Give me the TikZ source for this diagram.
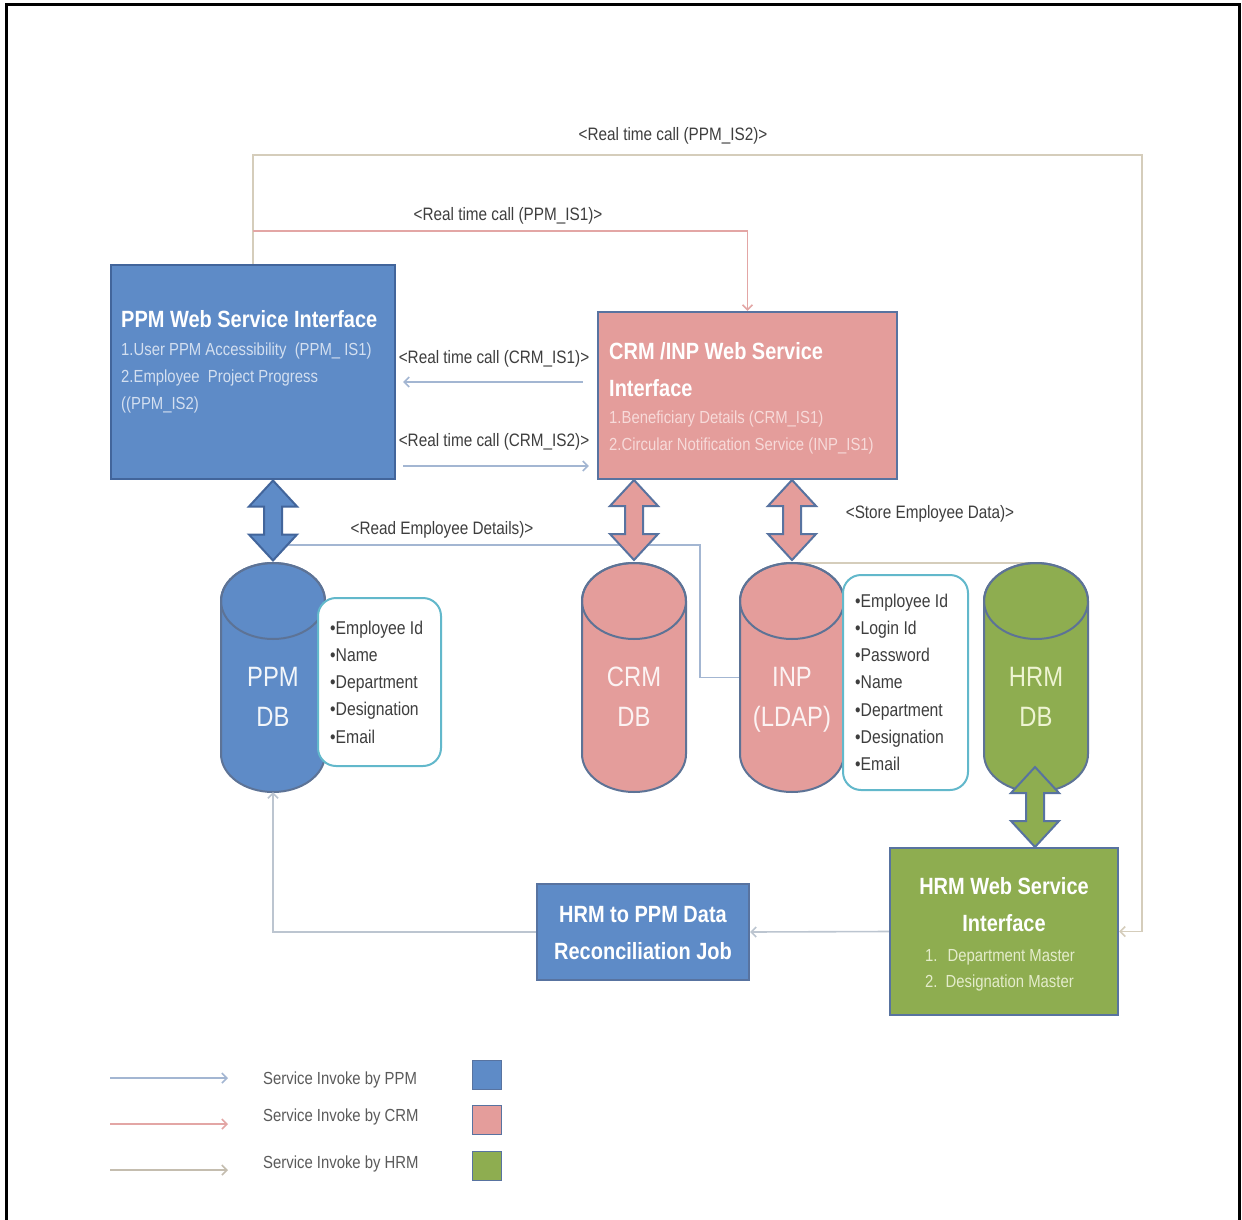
\documentclass[tikz,border=0pt]{standalone}
\usepackage{fontspec}
\setmainfont{Liberation Sans}[FakeStretch=0.85]
\usetikzlibrary{arrows.meta}
\definecolor{pblue}{HTML}{5E8BC7}
\definecolor{pbluedk}{HTML}{42659B}
\definecolor{cpink}{HTML}{E49D9B}
\definecolor{hgreen}{HTML}{8EAD50}
\definecolor{bordblue}{HTML}{5873A0}
\definecolor{cylbord}{HTML}{5D7396}
\definecolor{infobord}{HTML}{62B8CB}
\definecolor{lnblue}{HTML}{A3B6D2}
\definecolor{lnpink}{HTML}{E3A6A5}
\definecolor{lnbeige}{HTML}{D5CDBB}
\definecolor{lngray}{HTML}{BCC5D0}
\definecolor{subblue}{HTML}{D3DFF0}
\definecolor{subpink}{HTML}{F7DAD9}
\definecolor{subgreen}{HTML}{E4ECCB}
\definecolor{dbgreentxt}{HTML}{EEF4D2}
\definecolor{labtxt}{HTML}{3E3E3E}
\newcommand\myfs[1]{\fontsize{#1}{#1}\selectfont}
\newcommand\mycyl[4]{%
  \filldraw[fill=#3, draw=cylbord, line width=2pt]
    (#2-52,601) -- (#2-52,754) arc[start angle=180,end angle=0,x radius=52,y radius=38]
    -- (#2+52,601) arc[start angle=0,end angle=-180,x radius=52,y radius=38] -- cycle;
  \draw[draw=cylbord, line width=2pt] (#2,601) ellipse[x radius=52, y radius=38];
  \node[inner sep=0pt, minimum width=104pt, minimum height=229pt] (#1) at (#2,677.5) {};
}
\tikzset{
  dblarr/.pic={\filldraw[pic actions] (0,-40) -- (24,-14) -- (9,-14) -- (9,14) -- (24,14) -- (0,40) -- (-24,14) -- (-9,14) -- (-9,-14) -- (-24,-14) -- cycle;},
  conn/.style={line width=1.6pt},
  tip/.style={-{Straight Barb[length=5pt,width=10pt]}},
  boxnode/.style={line width=2.2pt, inner sep=0pt},
  ttl/.style={inner sep=0pt, text=white, font=\myfs{23.5}\bfseries},
  sub/.style={inner sep=0pt, anchor=base west, font=\myfs{17.5}},
  lab/.style={inner sep=0pt, anchor=base, text=labtxt, font=\myfs{18}},
  info/.style={inner sep=0pt, anchor=base west, text=labtxt, font=\myfs{18.5}},
  dbl/.style={inner sep=0pt, anchor=base, font=\myfs{28}},
  infobox/.style={draw=infobord, fill=white, line width=2pt, rounded corners=18pt, inner sep=0pt},
  leg/.style={inner sep=0pt, anchor=base west, text=labtxt!85, font=\myfs{17.5}},
  swatch/.style={draw=bordblue, line width=1.5pt, minimum width=29pt, minimum height=29pt, inner sep=0pt}
}
\begin{document}
\begin{tikzpicture}[x=1pt,y=-1pt]
\useasboundingbox[fill=white] (0,0) rectangle (1242,1220);
\draw[line width=3pt] (6,1225) -- (6,5) -- (1239,5) -- (1239,1225);

% ---------- boxes ----------
\node[boxnode, draw=pbluedk, fill=pblue, minimum width=284pt, minimum height=214pt] (ppm) at (253,372) {};
\node[boxnode, draw=bordblue, fill=cpink, minimum width=299pt, minimum height=167pt] (crm) at (747.5,395.5) {};
\node[boxnode, draw=bordblue, fill=hgreen, minimum width=228pt, minimum height=167pt] (hrm) at (1004,931.5) {};
\node[boxnode, draw=bordblue, fill=pblue, minimum width=212pt, minimum height=96pt] (job) at (643,932) {};

% ---------- connectors ----------
\coordinate (cIS2) at (1142,155);
\coordinate (cIS1) at (253,231);
\draw[conn, lnbeige, tip] (ppm.north) |- (cIS2) |- (hrm.east);
\draw[conn, lnpink, tip] (cIS1) -| (crm.north);
\draw[conn, lnblue, tip] ([xshift=-14pt,yshift=13.5pt]crm.west) -- ([xshift=7pt,yshift=-10pt]ppm.east);
\draw[conn, lnblue, tip] ([xshift=7pt,yshift=-94pt]ppm.east) -- ([xshift=-8pt,yshift=-70.5pt]crm.west);

\node[lab] (lIS2) at (673,140) {<Real time call (PPM\_IS2)>};
\node[lab] (lIS1) at (508,220) {<Real time call (PPM\_IS1)>};
\node[lab] (lC1) at (494,363) {<Real time call (CRM\_IS1)>};
\node[lab] (lC2) at (494,446) {<Real time call (CRM\_IS2)>};
\node[lab] (lRead) at (442,534) {<Read Employee Details)>};
\node[lab] (lStore) at (930,518) {<Store Employee Data)>};

% ---------- box texts ----------
\node[ttl, anchor=base west] (t1) at (121,327) {PPM Web Service Interface};
\node[sub, text=subblue] (t1a) at (121,355) {1.User PPM Accessibility\ \ (PPM\_ IS1)};
\node[sub, text=subblue] (t1b) at (121,382) {2.Employee\ \ Project Progress};
\node[sub, text=subblue] (t1c) at (121,409) {((PPM\_IS2)};

\node[ttl, anchor=base west] (t2) at (609,359) {CRM /INP Web Service};
\node[ttl, anchor=base west] (t2i) at (609,396) {Interface};
\node[sub, text=subpink] (t2a) at (609,423) {1.Beneficiary Details (CRM\_IS1)};
\node[sub, text=subpink] (t2b) at (609,450) {2.Circular Notification Service (INP\_IS1)};

\node[ttl, anchor=base] (t3) at (1004,894) {HRM Web Service};
\node[ttl, anchor=base] (t3i) at (1004,931) {Interface};
\node[sub, text=subgreen] (t3a) at (925,961) {1.\hspace{10pt}Department Master};
\node[sub, text=subgreen] (t3b) at (925,987) {2.\hspace{8pt}Designation Master};

\node[ttl, anchor=base] (t4) at (643,922) {HRM to PPM Data};
\node[ttl, anchor=base] (t4b) at (643,959) {Reconciliation Job};

% ---------- lines behind DBs ----------
\coordinate (rdend) at (285,545);
\draw[conn, lnblue] (741,677.5) -- (700,677.5) |- (rdend);
\draw[conn, lnbeige] (1036,563) -- (795,563);

% ---------- databases ----------
\mycyl{ppmdb}{273}{pblue}{cylbord}
\mycyl{crmdb}{634}{cpink}{cylbord}
\mycyl{inpdb}{792}{cpink}{cylbord}
\mycyl{hrmdb}{1036}{hgreen}{cylbord}

\node[dbl, text=white!92!pblue] (d1a) at (273,686) {PPM};
\node[dbl, text=white!92!pblue] (d1b) at (273,726) {DB};
\node[dbl, text=white!88!cpink] (d2a) at (634,686) {CRM};
\node[dbl, text=white!88!cpink] (d2b) at (634,726) {DB};
\node[dbl, text=white!88!cpink] (d3a) at (792,686) {INP};
\node[dbl, text=white!88!cpink] (d3b) at (792,726) {(LDAP)};
\node[dbl, text=dbgreentxt] (d4a) at (1036,686) {HRM};
\node[dbl, text=dbgreentxt] (d4b) at (1036,726) {DB};

% ---------- block double arrows ----------
\pic[fill=pblue, draw=pbluedk, line width=2pt] at (273,520.5) {dblarr};
\pic[fill=cpink, draw=bordblue, line width=2pt] at (634,520) {dblarr};
\pic[fill=cpink, draw=bordblue, line width=2pt] at (792,520) {dblarr};
\pic[fill=hgreen, draw=bordblue, line width=2pt] at (1035,807) {dblarr};

% ---------- info boxes ----------
\node[infobox, minimum width=123pt, minimum height=168pt] (ppminfo) at (379.5,682) {};
\node[info] (p1) at (330,634) {•Employee Id};
\node[info] (p2) at (330,661) {•Name};
\node[info] (p3) at (330,688) {•Department};
\node[info] (p4) at (330,715) {•Designation};
\node[info] (p5) at (330,743) {•Email};

\node[infobox, minimum width=125pt, minimum height=215pt] (inpinfo) at (905.5,682.5) {};
\node[info] (q1) at (855,607) {•Employee Id};
\node[info] (q2) at (855,634) {•Login Id};
\node[info] (q3) at (855,661) {•Password};
\node[info] (q4) at (855,688) {•Name};
\node[info] (q5) at (855,716) {•Department};
\node[info] (q6) at (855,743) {•Designation};
\node[info] (q7) at (855,770) {•Email};

% ---------- bottom flow ----------
\draw[conn, lngray, tip] (hrm.west) -- (job.east);
\draw[conn, lngray, tip] (job.west) -| (ppmdb.south);

% ---------- legend ----------
\coordinate (la1) at (110,1078); \coordinate (lb1) at (228,1078);
\coordinate (la2) at (110,1124); \coordinate (lb2) at (228,1124);
\coordinate (la3) at (110,1170); \coordinate (lb3) at (228,1170);
\draw[conn, lnblue, tip] (la1) -- (lb1);
\draw[conn, lnpink, tip] (la2) -- (lb2);
\draw[conn, lnbeige!80!gray, tip] (la3) -- (lb3);
\node[leg] (g1) at (263,1084) {Service Invoke by PPM};
\node[leg] (g2) at (263,1121) {Service Invoke by CRM};
\node[leg] (g3) at (263,1168) {Service Invoke by HRM};
\node[swatch, fill=pblue] (s1) at (487,1075) {};
\node[swatch, fill=cpink] (s2) at (487,1120) {};
\node[swatch, fill=hgreen] (s3) at (487,1166) {};
\end{tikzpicture}
\end{document}
